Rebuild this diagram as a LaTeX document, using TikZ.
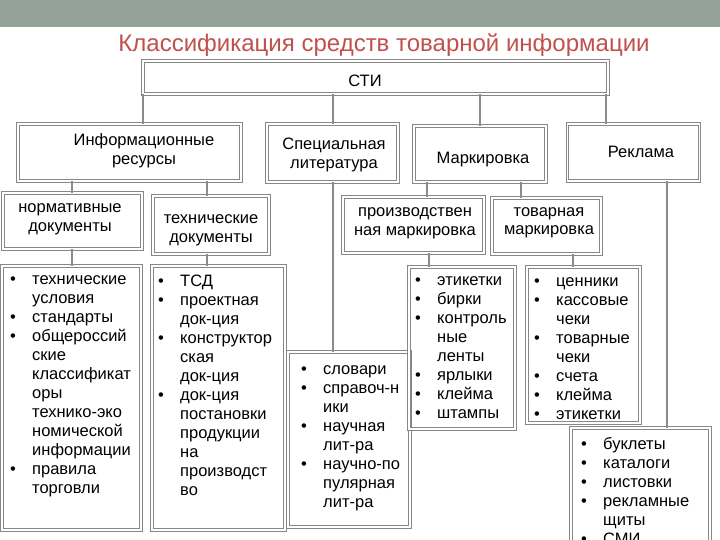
\documentclass[tikz,border=0pt]{standalone}
\usepackage{fontspec}
\setmainfont{Liberation Sans}
\definecolor{barcol}{RGB}{147,163,153}
\definecolor{titlecol}{RGB}{192,80,77}
\definecolor{linecol}{RGB}{140,140,140}
\definecolor{boxcol}{RGB}{135,135,135}
\newcommand{\bi}[1]{\makebox[22pt][l]{\textbullet}#1}
\newcommand{\ci}[1]{\hspace*{22pt}#1}
\newcommand{\lb}[1]{\parbox[t]{200pt}{\centering #1}}
\newcommand{\ls}[1]{\parbox[t]{200pt}{\raggedright #1}}
\tikzset{
  box/.style={draw=boxcol, double=white, line width=0.9pt, double distance=1.8pt, inner sep=0pt, outer sep=0pt},
  conn/.style={draw=linecol, line width=1.3pt},
  lbl/.style={anchor=base, inner sep=0pt, font=\fontsize{16.5}{19}\selectfont},
  lst/.style={anchor=base west, inner sep=0pt, font=\fontsize{16.5}{19}\selectfont},
}
\begin{document}
\begin{tikzpicture}[x=1pt, y=-1pt]
\useasboundingbox (0,0) rectangle (720,540);
\clip (0,0) rectangle (720,540);
\fill[barcol] (0,0) rectangle (720,27);
\node[anchor=base, inner sep=0pt, text=titlecol, font=\fontsize{24}{28}\selectfont] (title) at (384,52) {Классификация средств товарной информации};

% boxes
\node[box, minimum width=465, minimum height=33] (sti) at (375.5,77.5) {};
\node[box, minimum width=223, minimum height=57] (ir) at (129.5,152.5) {};
\node[box, minimum width=131, minimum height=58] (sl) at (332.5,153) {};
\node[box, minimum width=132, minimum height=56] (mk) at (480,154) {};
\node[box, minimum width=132, minimum height=57] (rk) at (633.5,152.5) {};
\node[box, minimum width=139, minimum height=56] (nd) at (72.5,221) {};
\node[box, minimum width=116, minimum height=58] (td) at (211,225) {};
\node[box, minimum width=141, minimum height=56] (pm) at (413.5,225) {};
\node[box, minimum width=109, minimum height=56] (tm) at (546.5,226) {};
\node[box, minimum width=139, minimum height=264] (l1) at (71.5,398) {};
\node[box, minimum width=133, minimum height=264] (l2) at (218.5,398) {};
\node[box, minimum width=122, minimum height=175] (l3) at (349,439.5) {};
\node[box, minimum width=106, minimum height=162] (l4) at (462,348) {};
\node[box, minimum width=113, minimum height=156] (l5) at (583.5,345) {};
\node[box, minimum width=139, minimum height=142] (l6) at (640.5,499) {};

% connectors
\draw[conn] (sti.south -| 143,0) -- (ir.north -| 143,0);
\draw[conn] (sti.south -| 333,0) -- (sl.north -| 333,0);
\draw[conn] (sti.south -| 480,0) -- (mk.north -| 480,0);
\draw[conn] (sti.south -| 606,0) -- (rk.north -| 606,0);
\draw[conn] (ir.south -| 72,0) -- (nd.north -| 72,0);
\draw[conn] (ir.south -| 207,0) -- (td.north -| 207,0);
\draw[conn] (nd.south -| 72,0) -- (l1.north -| 72,0);
\draw[conn] (td.south -| 207,0) -- (l2.north -| 207,0);
\draw[conn] (sl.south -| 333,0) -- (l3.north -| 333,0);
\draw[conn] (mk.south -| 427,0) -- (pm.north -| 427,0);
\draw[conn] (mk.south -| 521,0) -- (tm.north -| 521,0);
\draw[conn] (pm.south -| 429,0) -- (l4.north -| 429,0);
\draw[conn] (tm.south -| 573,0) -- (l5.north -| 573,0);
\draw[conn] (rk.south -| 667,0) -- (l6.north -| 667,0);

% labels
\node[lbl] (stit) at (365,87) {СТИ};
\node[lbl] (irt) at (144,146) {\lb{Информационные\\ресурсы}};
\node[lbl] (slt) at (334,150) {\lb{Специальная\\литература}};
\node[lbl] (mkt) at (483,164) {Маркировка};
\node[lbl] (rkt) at (641,158) {Реклама};
\node[lbl] (ndt) at (70,213) {\lb{нормативные\\документы}};
\node[lbl] (tdt) at (211,224) {\lb{технические\\документы}};
\node[lbl] (pmt) at (415,217) {\lb{производствен\\ная маркировка}};
\node[lbl] (tmt) at (549,216) {\lb{товарная\\маркировка}};

% lists
\node[lst] (l1t) at (10,284) {\ls{\bi{технические}\\\ci{условия}\\\bi{стандарты}\\\bi{общероссий}\\\ci{ские}\\\ci{классификат}\\\ci{оры}\\\ci{технико-эко}\\\ci{номической}\\\ci{информации}\\\bi{правила}\\\ci{торговли}}};
\node[lst] (l2t) at (158,286) {\ls{\bi{ТСД}\\\bi{проектная}\\\ci{док-ция}\\\bi{конструктор}\\\ci{ская}\\\ci{док-ция}\\\bi{док-ция}\\\ci{постановки}\\\ci{продукции}\\\ci{на}\\\ci{производст}\\\ci{во}}};
\node[lst] (l3t) at (301,374) {\ls{\bi{словари}\\\bi{справоч-н}\\\ci{ики}\\\bi{научная}\\\ci{лит-ра}\\\bi{научно-по}\\\ci{пулярная}\\\ci{лит-ра}}};
\node[lst] (l4t) at (415,285) {\ls{\bi{этикетки}\\\bi{бирки}\\\bi{контроль}\\\ci{ные}\\\ci{ленты}\\\bi{ярлыки}\\\bi{клейма}\\\bi{штампы}}};
\node[lst] (l5t) at (534,286) {\ls{\bi{ценники}\\\bi{кассовые}\\\ci{чеки}\\\bi{товарные}\\\ci{чеки}\\\bi{счета}\\\bi{клейма}\\\bi{этикетки}}};
\node[lst] (l6t) at (581,449) {\ls{\bi{буклеты}\\\bi{каталоги}\\\bi{листовки}\\\bi{рекламные}\\\ci{щиты}\\\bi{СМИ}}};
\end{tikzpicture}
\end{document}
